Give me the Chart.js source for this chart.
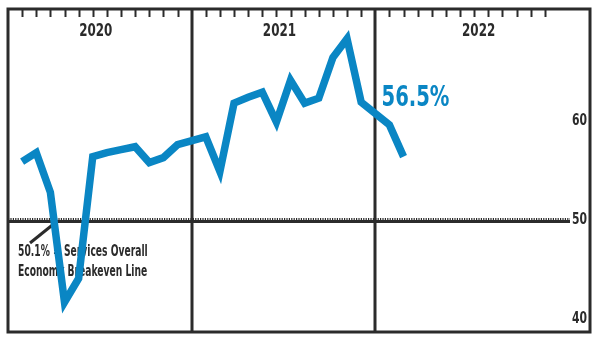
<!DOCTYPE html>
<html>
<head>
<meta charset="utf-8">
<script src="https://cdn.jsdelivr.net/npm/chart.js@4"></script>
<style>
  html, body { margin: 0; padding: 0; background: #ffffff; }
  #wrap { width: 600px; height: 341px; }
</style>
</head>
<body>
<div id="wrap"><canvas id="c" width="600" height="341"></canvas></div>
<script>
// ---- data ----
const years = ["2020", "2021", "2022"];
const monthsPerYear = 12;
// monthly index values, Jan 2020 .. Feb 2022
const months = ["Jan 2020","Feb 2020","Mar 2020","Apr 2020","May 2020","Jun 2020","Jul 2020","Aug 2020","Sep 2020","Oct 2020","Nov 2020","Dec 2020",
                "Jan 2021","Feb 2021","Mar 2021","Apr 2021","May 2021","Jun 2021","Jul 2021","Aug 2021","Sep 2021","Oct 2021","Nov 2021","Dec 2021",
                "Jan 2022","Feb 2022"];
const values = [56.0, 56.9, 52.9, 41.8, 44.2, 56.5, 56.9, 57.2, 57.5, 55.9, 56.4, 57.7,
                58.5, 55.0, 61.9, 62.5, 63.0, 60.0, 64.2, 61.9, 62.4, 66.5, 68.4, 62.0,
                59.7, 56.5];
const yTickValues = [40, 50, 60];
const yTickLabels = ["40", "50", "60"];
const breakeven = 50;
const lastLabel = "56.5%";
const noteLines = ["50.1% = Services Overall", "Economy Breakeven Line"];

// ---- styling ----
const BLUE = "#0a86c4";
const DARK = "#2b2b2b";
const FONT = '"DejaVu Sans Condensed", "DejaVu Sans", sans-serif';

// a year occupies 12 month slots plus one gap slot
const slotOf = (yearIdx, m) => yearIdx * (monthsPerYear + 1) + m;
const points = values.map((v, i) => ({
  x: slotOf(Math.floor(i / monthsPerYear), i % monthsPerYear),
  y: v
}));

function narrowText(ctx, txt, px, py, align, size, color, squeeze) {
  ctx.save();
  ctx.translate(px, py);
  ctx.scale(squeeze, 1);
  ctx.fillStyle = color;
  ctx.font = "bold " + size + "px " + FONT;
  ctx.textAlign = align;
  ctx.textBaseline = "middle";
  ctx.fillText(txt, 0, 0);
  ctx.restore();
}

const decor = {
  id: "decor",
  beforeDatasetsDraw(chart) {
    const { ctx, chartArea: a, scales: { x, y } } = chart;
    ctx.save();
    // month ticks hanging from the top
    ctx.strokeStyle = DARK;
    ctx.lineWidth = 2;
    for (let yi = 0; yi < years.length; yi++) {
      for (let m = 0; m < monthsPerYear; m++) {
        const px = Math.round(x.getPixelForValue(slotOf(yi, m))) + 0.5;
        ctx.beginPath();
        ctx.moveTo(px, a.top);
        ctx.lineTo(px, a.top + 8);
        ctx.stroke();
      }
    }
    // year dividers
    ctx.lineWidth = 3;
    for (let yi = 1; yi < years.length; yi++) {
      const px = Math.round(x.getPixelForValue(slotOf(yi, -1)));
      ctx.beginPath();
      ctx.moveTo(px, a.top);
      ctx.lineTo(px, a.bottom);
      ctx.stroke();
    }
    // year labels, centred in each section
    for (let yi = 0; yi < years.length; yi++) {
      const l = yi === 0 ? a.left : x.getPixelForValue(slotOf(yi, -1));
      const r = yi === years.length - 1 ? a.right : x.getPixelForValue(slotOf(yi + 1, -1));
      narrowText(ctx, years[yi], (l + r) / 2 - 4, a.top + 23, "center", 17, DARK, 0.78);
    }
    // breakeven line
    const by = Math.round(y.getPixelForValue(breakeven));
    const lineEnd = a.right - 20;
    ctx.strokeStyle = DARK;
    ctx.lineWidth = 3;
    ctx.beginPath();
    ctx.moveTo(a.left, by + 0.5);
    ctx.lineTo(lineEnd, by + 0.5);
    ctx.stroke();
    ctx.lineWidth = 2;
    ctx.setLineDash([1.2, 1.2]);
    ctx.beginPath();
    ctx.moveTo(a.left, by - 2);
    ctx.lineTo(lineEnd, by - 2);
    ctx.stroke();
    ctx.setLineDash([]);
    // right-side value labels
    yTickValues.forEach((v, i) => {
      narrowText(ctx, yTickLabels[i], a.right - 18, y.getPixelForValue(v) - 1, "left", 16, DARK, 0.75);
    });
    // note text and leader
    narrowText(ctx, noteLines[0], a.left + 10, by + 31, "left", 15, DARK, 0.68);
    narrowText(ctx, noteLines[1], a.left + 10, by + 51, "left", 15, DARK, 0.68);
    ctx.strokeStyle = DARK;
    ctx.lineWidth = 3;
    ctx.beginPath();
    ctx.moveTo(a.left + 22, by + 22);
    ctx.lineTo(x.getPixelForValue(2.5), by);
    ctx.stroke();
    ctx.restore();
  },
  afterDraw(chart) {
    const { ctx, chartArea: a, scales: { x, y } } = chart;
    ctx.save();
    // frame
    ctx.strokeStyle = DARK;
    ctx.lineWidth = 3;
    ctx.strokeRect(a.left, a.top, a.right - a.left, a.bottom - a.top);
    ctx.restore();
    // last value label
    const last = points[points.length - 1];
    narrowText(ctx, lastLabel, x.getPixelForValue(last.x) - 22, y.getPixelForValue(last.y) - 58, "left", 29, BLUE, 0.75);
  }
};

new Chart(document.getElementById("c"), {
  type: "line",
  data: {
    labels: months,
    datasets: [{
      data: points,
      borderColor: BLUE,
      borderWidth: 7.5,
      borderJoinStyle: "miter",
      borderCapStyle: "butt",
      pointRadius: 0,
      tension: 0,
      fill: false
    }]
  },
  options: {
    responsive: false,
    animation: false,
    layout: { padding: { left: 8, right: 10, top: 9, bottom: 9 } },
    plugins: { legend: { display: false }, tooltip: { enabled: false } },
    scales: {
      x: { type: "linear", min: -1, max: 40.2, display: false },
      y: { type: "linear", min: 38.8, max: 71.4, display: false }
    }
  },
  plugins: [decor]
});
</script>
</body>
</html>
